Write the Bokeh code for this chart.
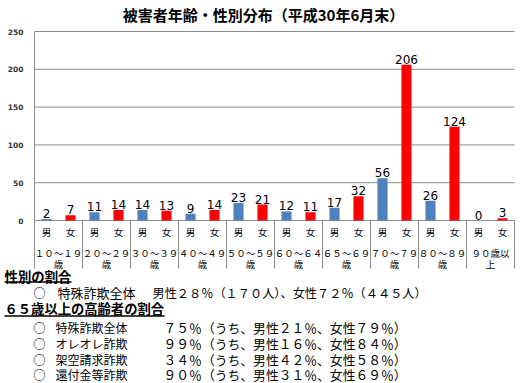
from bokeh.plotting import figure
from bokeh.models import Range1d
from bokeh.embed import file_html
from bokeh.resources import INLINE
from bokeh.core.properties import value

# ---------------- data ----------------
title_text = "被害者年齢・性別分布（平成30年6月末）"
age_groups = ["１０～１９\n歳", "２０～２９\n歳", "３０～３９\n歳", "４０～４９\n歳", "５０～５９\n歳",
              "６０～６４\n歳", "６５～６９\n歳", "７０～７９\n歳", "８０～８９\n歳", "９０歳以\n上"]
sexes = ["男", "女"]
male = [2, 11, 14, 9, 23, 12, 17, 56, 26, 0]
female = [7, 14, 13, 14, 21, 11, 32, 206, 124, 3]
y_ticks = [0, 50, 100, 150, 200, 250]

section1 = "性別の割合"
section1_name = "特殊詐欺全体"
section1_text = "男性２８％（１７０人）、女性７２％（４４５人）"
section2 = "６５歳以上の高齢者の割合"
fraud_types = ["特殊詐欺全体", "オレオレ詐欺", "架空請求詐欺", "還付金等詐欺"]
elderly_share = ["７５％", "９９％", "３４％", "９０％"]
elderly_male = ["２１％", "１６％", "４２％", "３１％"]
elderly_female = ["７９％", "８４％", "５８％", "６９％"]

# ---------------- layout (page pixels -> data) ----------------
W, H = 528, 383
PAGE = 0                          # page offset of the figure
PLOT_LEFT, PLOT_RIGHT = 34, 514   # page x of plot area
PLOT_TOP, PLOT_ZERO = 31, 220     # page y of max tick and zero
n = len(age_groups)
NX = 2 * n
Y_MAX = y_ticks[-1]
PX_X = (PLOT_RIGHT - PLOT_LEFT) / NX
PX_Y = (PLOT_ZERO - PLOT_TOP) / Y_MAX


def dx(page_x):
    return (page_x - PLOT_LEFT) / PX_X


def dy(page_y):
    return (PLOT_ZERO - page_y) / PX_Y


CJK = "Noto Sans CJK JP"
BLUE = "#4F81BD"
RED = "#FF0000"
GRID = "#8C8C8C"

p = figure(width=W, height=H, output_backend="svg", toolbar_location=None,
           x_range=Range1d(dx(PAGE), dx(PAGE + W)), y_range=Range1d(dy(PAGE + H), dy(PAGE)),
           x_axis_location=None, y_axis_location=None,
           min_border_left=0, min_border_right=0, min_border_top=0, min_border_bottom=0)
p.min_border = 0
p.outline_line_color = None
p.background_fill_color = "white"
p.border_fill_color = "white"
p.grid.visible = False

# horizontal grid lines at the value ticks (drawn through the y scale)
p.segment(x0=[0] * len(y_ticks), y0=y_ticks, x1=[NX] * len(y_ticks), y1=y_ticks,
          line_color=GRID, line_width=1)
# tick labels
p.text(x=[dx(23)] * len(y_ticks), y=y_ticks, text=[str(t) for t in y_ticks],
       text_align="right", text_baseline="middle", text_font=value("DejaVu Sans"),
       text_font_style="bold", text_font_size="7.5px", text_color="#333333")

# bars
xm = [2 * i + 0.5 for i in range(n)]
xf = [2 * i + 1.5 for i in range(n)]
p.vbar(x=xm, top=male, bottom=0, width=0.42, fill_color=BLUE, line_color=None)
p.vbar(x=xf, top=female, bottom=0, width=0.42, fill_color=RED, line_color=None)

# value labels
p.text(x=xm + xf, y=male + female, text=[str(v) for v in male + female],
       text_align="center", text_baseline="alphabetic", y_offset=-5.5,
       text_font=value("DejaVu Sans"), text_font_size="12px", text_color="black")

# y axis line + group separators
sep_bottom = dy(268)
sep_x = [2 * i for i in range(n + 1)]
p.segment(x0=sep_x, y0=[0] * len(sep_x), x1=sep_x, y1=[sep_bottom] * len(sep_x),
          line_color=GRID, line_width=1)
p.segment(x0=[0], y0=[0], x1=[0], y1=[Y_MAX], line_color=GRID, line_width=1)

# category labels
p.text(x=xm + xf, y=[dy(231)] * (2 * n), text=[sexes[0]] * n + [sexes[1]] * n,
       text_align="center", text_baseline="middle",
       text_font=value(CJK), text_font_size="9.5px", text_color="black")
line1, line2 = zip(*[a.split("\n") for a in age_groups])
gx = [2 * i + 1 for i in range(n)]
p.text(x=gx, y=[dy(252)] * n, text=list(line1), text_align="center", text_baseline="middle",
       text_font=value(CJK), text_font_size="9.5px", text_color="black")
p.text(x=gx, y=[dy(263)] * n, text=list(line2), text_align="center", text_baseline="middle",
       text_font=value(CJK), text_font_size="9.5px", text_color="black")

# title
p.text(x=[dx(263)], y=[dy(14)], text=[title_text], text_align="center",
       text_baseline="middle", text_font=value(CJK), text_font_style="bold",
       text_font_size="15px", text_color="black")


def add_text(px, py, txt, size="12.5px", bold=False):
    p.text(x=[dx(px)], y=[dy(py)], text=[txt], text_align="left",
           text_baseline="middle", text_font=value(CJK),
           text_font_style="bold" if bold else "normal",
           text_font_size=size, text_color="black")


def underline(px0, px1, py):
    p.segment(x0=[dx(px0)], y0=[dy(py)], x1=[dx(px1)], y1=[dy(py)],
              line_color="black", line_width=1.3)


rows_y = [275, 292, 308, 327, 343, 359, 374]
add_text(4, rows_y[0], section1, size="13.4px", bold=True)
underline(4, 71, 281.5)
add_text(33, rows_y[1], "○", size="12px")
add_text(57, rows_y[1], section1_name, size="13px")
add_text(152, rows_y[1], section1_text, size="12.2px")
add_text(4, rows_y[2], section2, size="13.3px", bold=True)
underline(4, 164, 315.5)
for k in range(len(fraud_types)):
    yy = rows_y[3 + k]
    add_text(33, yy, "○", size="12px")
    add_text(55, yy, fraud_types[k], size="12px")
    add_text(163, yy, f"{elderly_share[k]}（うち、男性{elderly_male[k]}、女性{elderly_female[k]}）",
             size="12.8px")

open("out.html", "w").write(file_html(p, INLINE))
